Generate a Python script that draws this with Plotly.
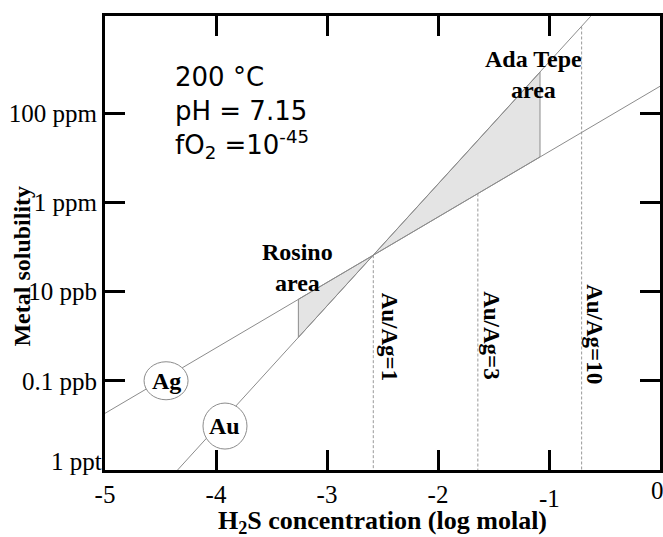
import plotly.graph_objects as go

# ---- data (log10 of mass fraction for solubility; log molal for H2S) ----
ag_x = [-5.0, 0.0]
ag_y = [-10.73, -3.40]
au_x = [-4.346, -0.624]
au_y = [-12.0, -1.83]

rosino_x = [-3.258, -2.583, -3.258, -3.258]
rosino_y = [-8.174, -7.185, -9.028, -8.174]
adatepe_x = [-2.583, -1.081, -1.081, -2.583]
adatepe_y = [-7.185, -3.084, -4.983, -7.185]

ratio_labels = ["Au/Ag=1", "Au/Ag=3", "Au/Ag=10"]
ratio_x = [-2.583, -1.641, -0.706]
ratio_top = [-7.185, -5.804, -2.06]
ratio_bottom = -12.0

xtick_vals = [-5, -4, -3, -2, -1, 0]
xtick_text = ["-5", "-4", "-3", "-2", "-1", "0"]
ytick_vals = [-12, -10, -8, -6, -4]
ytick_text = ["1 ppt", "0.1 ppb", "10 ppb", "1 ppm", "100 ppm"]

SERIF = "Liberation Serif"
LINE_GRAY = "#8c8c8c"

fig = go.Figure()

fig.add_trace(go.Scatter(x=rosino_x, y=rosino_y, mode="lines", fill="toself",
                         fillcolor="#e4e4e4", line=dict(color=LINE_GRAY, width=1),
                         hoverinfo="skip", showlegend=False))
fig.add_trace(go.Scatter(x=adatepe_x, y=adatepe_y, mode="lines", fill="toself",
                         fillcolor="#e4e4e4", line=dict(color=LINE_GRAY, width=1),
                         hoverinfo="skip", showlegend=False))

for xv, top in zip(ratio_x, ratio_top):
    fig.add_trace(go.Scatter(x=[xv, xv], y=[top, ratio_bottom], mode="lines",
                             line=dict(color="#999999", width=1, dash="3px,2px"),
                             hoverinfo="skip", showlegend=False))

fig.add_trace(go.Scatter(x=ag_x, y=ag_y, mode="lines", name="Ag",
                         line=dict(color=LINE_GRAY, width=1), showlegend=False))
fig.add_trace(go.Scatter(x=au_x, y=au_y, mode="lines", name="Au",
                         line=dict(color=LINE_GRAY, width=1), showlegend=False))

# circles around metal labels (pixel sized)
for cx, cy, rx, ry in [(-4.45, -10.0, 22, 19), (-3.919, -11.015, 22, 23)]:
    fig.add_shape(type="circle", xref="x", yref="y", xsizemode="pixel", ysizemode="pixel",
                  xanchor=cx, yanchor=cy, x0=-rx, x1=rx, y0=-ry, y1=ry,
                  line=dict(color="#8c8c8c", width=1), fillcolor="white", layer="above")

bold = dict(family=SERIF, size=24, color="black")
ratio_font = dict(family=SERIF, size=23, color="black")
tickfont = dict(family=SERIF, size=25, color="black")
ann = []
ann.append(dict(x=-4.45, y=-10.0, text="<b>Ag</b>", showarrow=False, font=bold))
ann.append(dict(x=-3.919, y=-11.015, text="<b>Au</b>", showarrow=False, font=bold))
ann.append(dict(x=-3.270, y=-7.454, text="<b>Rosino<br>area</b>", showarrow=False, font=bold))
ann.append(dict(x=-1.144, y=-3.131, text="<b>Ada Tepe<br>area</b>", showarrow=False, font=bold))
for lbl, xv, yv in zip(ratio_labels, [-2.44, -1.514, -0.586], [-9.015, -9.0, -8.954]):
    ann.append(dict(x=xv, y=yv, text="<b>" + lbl + "</b>", textangle=90, showarrow=False,
                    font=ratio_font))
ann.append(dict(x=-4.39, y=-3.98, xanchor="left", yanchor="middle", align="left",
                text="200 °C<br>pH = 7.15<br>fO<sub>2</sub> =10<sup>-45</sup>",
                showarrow=False, font=dict(family="DejaVu Sans", size=26, color="black")))
# tick labels drawn slightly off their ticks, as in the reference
ann.append(dict(x=xtick_vals[-1], yref="paper", y=0, yshift=-20, xanchor="center", yanchor="middle",
                xshift=-3, text=xtick_text[-1], showarrow=False, font=tickfont))
ann.append(dict(x=xtick_vals[-2], yref="paper", y=0, yshift=-28, xanchor="center", yanchor="middle",
                text=xtick_text[-2], showarrow=False, font=tickfont))
ann.append(dict(xref="paper", x=0, xshift=-1, y=ytick_vals[0], yshift=9, xanchor="right",
                yanchor="middle", text=ytick_text[0], showarrow=False, font=tickfont))
ann.append(dict(xref="paper", yref="paper", x=0.5, y=-0.114, xanchor="center", yanchor="middle",
                text="<b>H<sub>2</sub>S concentration (log molal)</b>", showarrow=False,
                font=dict(family=SERIF, size=26, color="black")))
ann.append(dict(xref="paper", yref="paper", x=-0.150, y=0.4497, xanchor="center", yanchor="middle",
                textangle=-90, text="<b>Metal solubility</b>", showarrow=False,
                font=dict(family=SERIF, size=24, color="black")))
for a in ann:
    a.setdefault("xref", "x")
    a.setdefault("yref", "y")

axis_common = dict(showline=True, linewidth=3, linecolor="black", mirror="allticks",
                   ticks="inside", ticklen=20, tickwidth=3, tickcolor="black",
                   showgrid=False, zeroline=False, automargin=False, tickfont=tickfont)

fig.update_layout(
    width=663, height=537,
    margin=dict(l=105, r=3, t=16, b=67),
    paper_bgcolor="white", plot_bgcolor="white",
    xaxis=dict(range=[-5, 0], tickmode="array", tickvals=xtick_vals,
               ticktext=xtick_text[:-2] + ["", ""], **axis_common),
    yaxis=dict(range=[-12, -1.825], tickmode="array", tickvals=ytick_vals,
               ticktext=[""] + ytick_text[1:], **axis_common),
    annotations=ann,
    showlegend=False,
)

# remove the page's default body margin so the figure fills the window exactly
fig.write_html("out.html", config={"displayModeBar": False},
               post_script="document.body.style.margin='0';document.body.style.overflow='hidden';")
